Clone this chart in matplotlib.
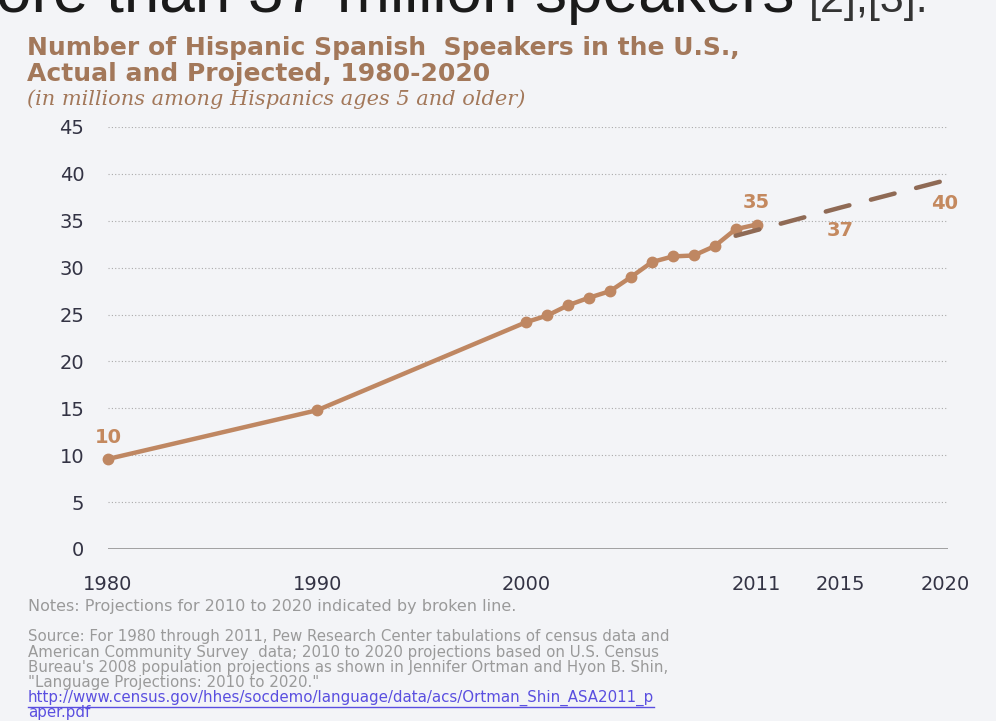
import matplotlib.pyplot as plt
import numpy as np

W, H = 996, 721

years = [1980, 1990, 2000, 2001, 2002, 2003, 2004, 2005, 2006, 2007, 2008, 2009, 2010, 2011]
speakers = [9.6, 14.8, 24.2, 24.9, 26.0, 26.8, 27.5, 29.0, 30.6, 31.2, 31.3, 32.3, 34.1, 34.6]
proj_years = [2010, 2015, 2020]
proj_speakers = [33.4, 36.4, 39.3]
xticks = [1980, 1990, 2000, 2011, 2015, 2020]
yticks = list(range(0, 50, 5))
point_labels = [(1980, '10'), (2011, '35'), (2015, '37'), (2020, '40')]

bg = '#f3f4f7'
solid = '#bf8762'
dash = '#8f6a55'
label_col = '#c4895f'
title_col = '#a3785a'


def fx(px):
    return px / W


def fy(py):
    return 1 - py / H


fig = plt.figure(figsize=(W / 100, H / 100), dpi=100, facecolor=bg)
ax = fig.add_axes([fx(108), fy(549), fx(948) - fx(108), fy(127) - fy(549)], facecolor=bg)

for v in yticks[1:]:
    ax.axhline(v, color='#aaaaaa', lw=0.8, ls=(0, (1, 2)), zorder=1)
ax.axhline(0, color='#9a9a9a', lw=1.3, zorder=1)

ax.plot(years, speakers, color=solid, lw=3.2, marker='o', ms=7.5, zorder=3, clip_on=False)
ax.plot(proj_years, proj_speakers, color=dash, lw=3.2, dashes=(5.5, 5.0), zorder=4,
        solid_capstyle='round', dash_capstyle='round', clip_on=False)

ax.set_xlim(1980, 2020.15)
ax.set_ylim(0, 45)
ax.set_xticks(xticks)
ax.set_yticks(yticks)
ax.tick_params(length=0, labelsize=14, labelcolor='#333344')
ax.tick_params(axis='y', pad=17)
ax.tick_params(axis='x', pad=19)
for s in ax.spines.values():
    s.set_visible(False)

offs = {'10': (0, 2.3), '35': (0, 2.4), '37': (0, -2.4), '40': (0, -2.5)}
vals = dict(zip(years + proj_years[1:], speakers + proj_speakers[1:]))
for yr, txt in point_labels:
    dx, dy = offs[txt]
    ax.text(yr + dx, vals[yr] + dy, txt, ha='center', va='center', fontsize=14,
            fontweight='bold', color=label_col, zorder=5)

# cropped heading at the top of the screenshot
t1 = fig.text(fx(-4), fy(12), 'ore than 37 million speakers', fontsize=46,
              family='Liberation Sans', color='#1a1a1a', va='baseline')
fig.canvas.draw()
bb = t1.get_window_extent()
fig.text(fx(bb.x1 + 14), fy(12), '[2],[3].', fontsize=31, family='Liberation Sans',
         color='#333333', va='baseline')

fig.text(fx(27), fy(48), 'Number of Hispanic Spanish  Speakers in the U.S.,', fontsize=18,
         fontweight='bold', color=title_col, va='center')
fig.text(fx(27), fy(74), 'Actual and Projected, 1980-2020', fontsize=18,
         fontweight='bold', color=title_col, va='center')
fig.text(fx(27), fy(99), '(in millions among Hispanics ages 5 and older)', fontsize=15,
         family='DejaVu Serif', style='italic', color=title_col, va='center')

fig.text(fx(28), fy(606), 'Notes: Projections for 2010 to 2020 indicated by broken line.',
         fontsize=11.5, color='#9a9a9a', va='center')
source = ['Source: For 1980 through 2011, Pew Research Center tabulations of census data and',
          'American Community Survey  data; 2010 to 2020 projections based on U.S. Census',
          "Bureau's 2008 population projections as shown in Jennifer Ortman and Hyon B. Shin,",
          '"Language Projections: 2010 to 2020."']
for i, line in enumerate(source):
    fig.text(fx(28), fy(637 + 15.2 * i), line, fontsize=10.8, color='#9a9a9a', va='center')
link = ['http://www.census.gov/hhes/socdemo/language/data/acs/Ortman_Shin_ASA2011_p', 'aper.pdf']
for i, line in enumerate(link):
    fig.text(fx(28), fy(698 + 14.5 * i), line, fontsize=10.8, color='#5a4fe0', va='center')
fig.canvas.draw()
r = fig.canvas.get_renderer()
bb = fig.texts[-2].get_window_extent(r)
fig.add_artist(plt.Line2D([fx(bb.x0), fx(bb.x1)], [fy(706.5), fy(706.5)], color='#5a4fe0', lw=1))

fig.savefig('out.png', dpi=100, facecolor=bg)
